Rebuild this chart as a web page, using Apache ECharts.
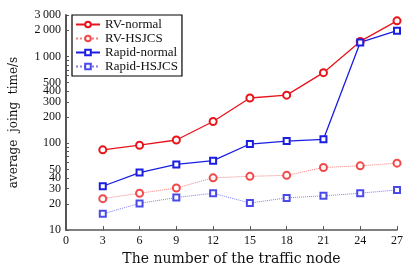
<!DOCTYPE html>
<html>
<head>
<meta charset="utf-8">
<script src="https://cdn.jsdelivr.net/npm/echarts@6/dist/echarts.min.js"></script>
<style>
  html, body { margin: 0; padding: 0; background: #fff; }
  #chart { width: 412px; height: 271px; }
</style>
</head>
<body>
<div id="chart"></div>
<script>
// traffic node counts (x)
const nodes = [3, 6, 9, 12, 15, 18, 21, 24, 27]
// average joining time in seconds
const rvNormal = [84, 95, 109, 178, 332, 358, 650, 1490, 2570]
const rvHsjcs = [23, 26.6, 30.5, 40, 41.6, 42.7, 52.6, 55, 59]
const rapidNormal = [32, 46, 57, 63, 98, 106, 111, 1450, 1980]
const rapidHsjcs = [15.4, 20.3, 23.7, 26.6, 20.5, 23.5, 24.8, 26.6, 29]
// y-axis labels and ticks
const yLabels = [10, 20, 30, 40, 50, 100, 200, 300, 400, 500, 1000, 2000, 3000]
const yTicks = [10, 20, 30, 40, 50, 60, 70, 80, 90, 100, 200, 300, 400, 500, 600, 700, 800, 900, 1000, 2000, 3000]

const pairs = (ys) => nodes.map((x, i) => [x, ys[i]])
const font = '"Liberation Serif", "DejaVu Serif", serif'
const wideFont = '"DejaVu Serif", serif'
const axisColor = '#555'

const chart = echarts.init(document.getElementById('chart'), null, { renderer: 'canvas' })

function makeSeries(name, data, color, symbol, dotted) {
  return {
    name,
    type: 'line',
    data: pairs(data),
    symbol,
    symbolSize: symbol === 'emptyCircle' ? 7 : 6,
    itemStyle: { color, borderWidth: 1.3, opacity: dotted ? 0.85 : 1 },
    lineStyle: { color, width: dotted ? 1 : 1.3, type: dotted ? 'dotted' : 'solid', opacity: dotted ? 0.6 : 1 },
    emphasis: { disabled: true },
    animation: false,
  }
}

chart.setOption({
  animation: false,
  grid: { left: 63, right: 15, top: 15, bottom: 36 },
  legend: {
    orient: 'vertical',
    left: 72,
    top: 15,
    itemWidth: 24,
    itemHeight: 7,
    itemGap: 1,
    padding: [3, 4, 3, 3],
    borderColor: '#000',
    borderWidth: 1.2,
    textStyle: { fontFamily: font, fontSize: 13, color: '#111' },
    data: ['RV-normal', 'RV-HSJCS', 'Rapid-normal', 'Rapid-HSJCS'],
  },
  xAxis: {
    type: 'value',
    min: 0,
    max: 27,
    interval: 3,
    name: 'The number of the traffic node',
    nameLocation: 'middle',
    nameGap: 21,
    nameTextStyle: { fontFamily: wideFont, fontSize: 14, color: '#111' },
    axisLine: { lineStyle: { color: axisColor, width: 1.5 } },
    axisTick: { inside: true, length: 4, lineStyle: { color: axisColor } },
    axisLabel: { fontFamily: font, fontSize: 12, color: '#111', margin: 5 },
    splitLine: { show: false },
  },
  yAxis: {
    type: 'log',
    logBase: 10,
    min: 10,
    max: 3000,
    name: 'average  joing  time/s',
    nameLocation: 'middle',
    nameGap: 46,
    nameTextStyle: { fontFamily: wideFont, fontSize: 12, color: '#111' },
    axisLine: { show: true, lineStyle: { color: axisColor, width: 2 } },
    axisTick: { show: true, inside: true, length: 3, customValues: yTicks, lineStyle: { color: axisColor } },
    axisLabel: {
      fontFamily: font,
      fontSize: 12,
      color: '#111',
      margin: 5,
      customValues: yLabels,
      formatter: (v) => {
        const n = Math.round(v)
        return n >= 1000 ? Math.floor(n / 1000) + '\u2009' + String(n % 1000).padStart(3, '0') : String(n)
      },
    },
    splitLine: { show: false },
  },
  series: [
    makeSeries('RV-normal', rvNormal, '#e8141b', 'emptyCircle', false),
    makeSeries('RV-HSJCS', rvHsjcs, '#ee2a2a', 'emptyCircle', true),
    makeSeries('Rapid-normal', rapidNormal, '#1a1ee0', 'emptyRect', false),
    makeSeries('Rapid-HSJCS', rapidHsjcs, '#2a2ae8', 'emptyRect', true),
  ],
})
</script>
</body>
</html>
